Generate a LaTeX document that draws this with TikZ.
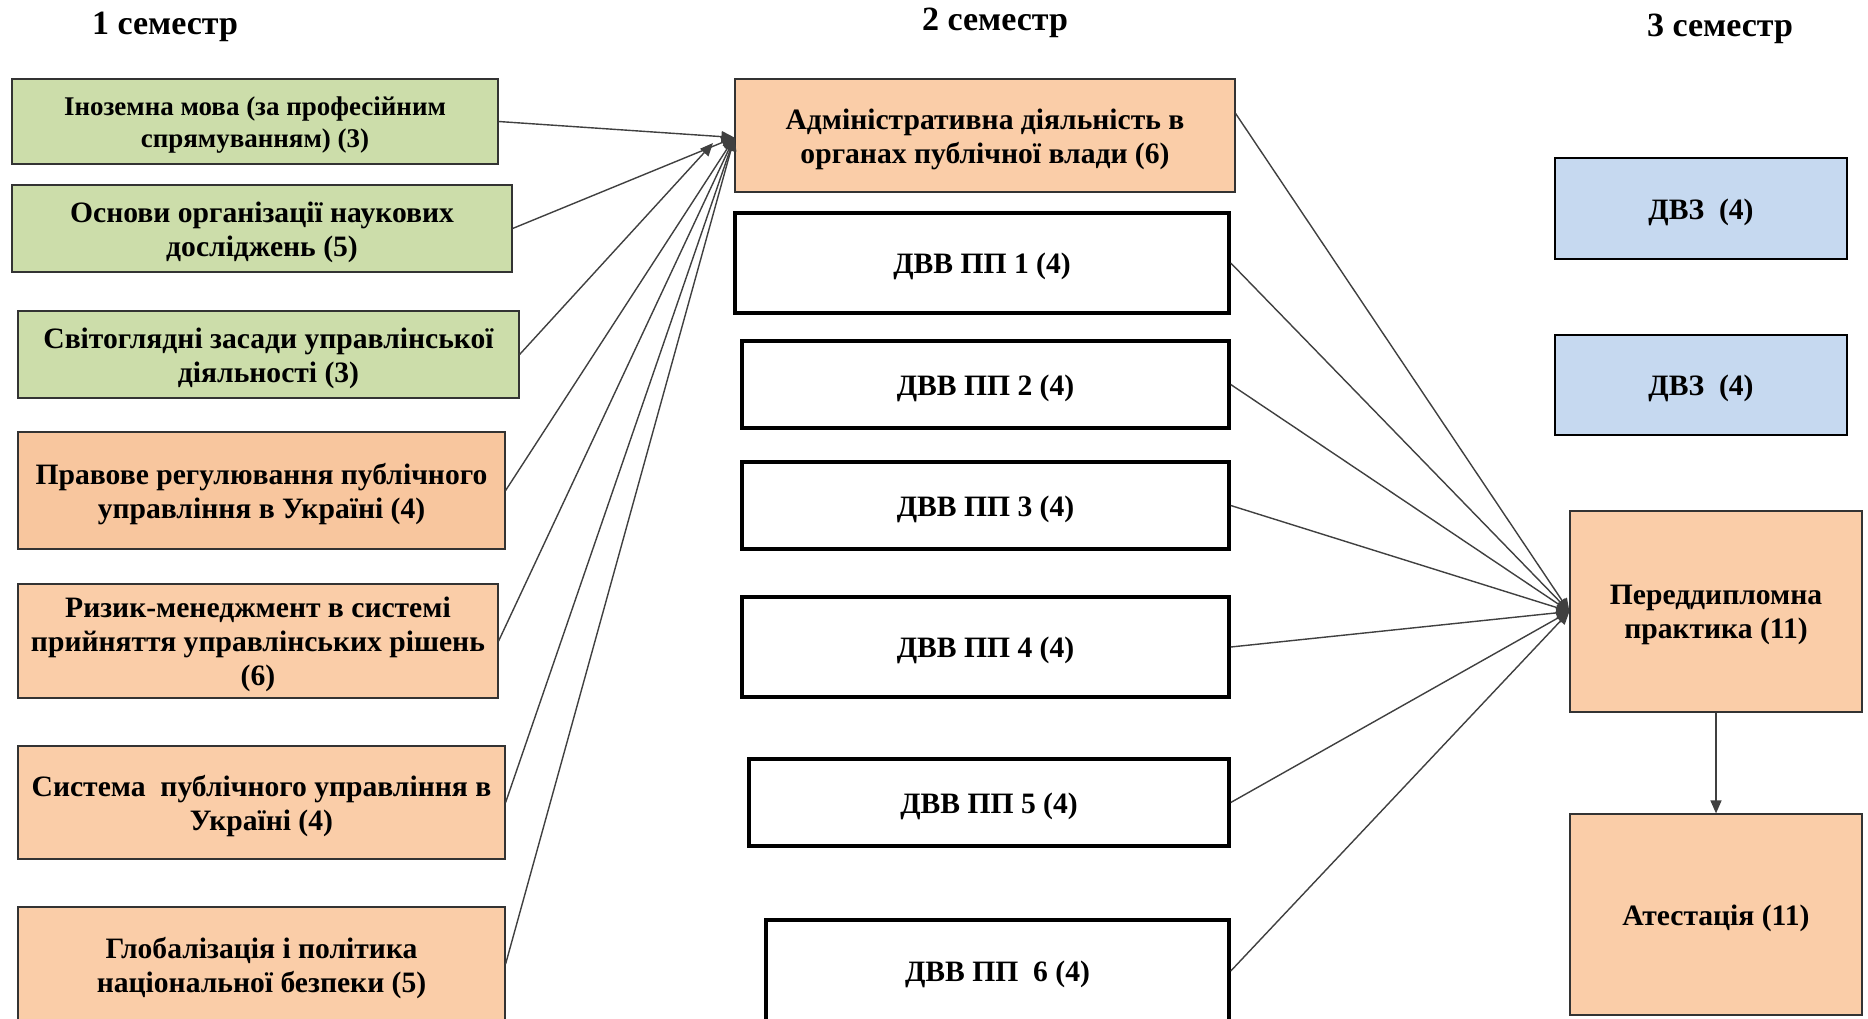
\documentclass[tikz,border=0pt]{standalone}
\usepackage{fontspec}
\setmainfont{Liberation Serif}
\usetikzlibrary{arrows.meta}
\definecolor{boxgreen}{RGB}{204,221,170}
\definecolor{boxorange}{RGB}{250,205,168}
\definecolor{boxorangedk}{RGB}{248,198,158}
\definecolor{boxblue}{RGB}{198,217,240}
\definecolor{linegray}{RGB}{64,64,64}
% box node (named #1) plus its text node (named #1t), text lowered slightly
\newcommand\bx[8]{%
  \node[#6, minimum width={#4-#2}, minimum height={#5-#3}] (#1) at ({(#2+#4)/2},{(#3+#5)/2}) {};
  \node[#7] (#1t) at ([yshift=-3.8pt]#1.center) {#8};}
\begin{document}
\begin{tikzpicture}[x=1pt,y=-1pt,
  base/.style={rectangle, inner sep=0pt},
  txt/.style={inner sep=0pt, align=center, font=\fontsize{29.6}{34}\selectfont\bfseries},
  smalltxt/.style={inner sep=0pt, align=center, font=\fontsize{27}{32}\selectfont\bfseries},
  greenbox/.style={base, fill=boxgreen, draw=black!80, line width=1.2pt},
  orangebox/.style={base, fill=boxorange, draw=black!80, line width=1.2pt},
  orangedkbox/.style={base, fill=boxorangedk, draw=black!80, line width=1.2pt},
  whitebox/.style={base, fill=white, draw=black, line width=3.5pt},
  bluebox/.style={base, fill=boxblue, draw=black, line width=2.5pt},
  header/.style={font=\fontsize{34}{40}\selectfont\bfseries, inner sep=0pt},
  arr/.style={draw=linegray, line width=1.4pt, -{Triangle[length=13pt,width=11pt]}}
]
\useasboundingbox (0,0) rectangle (1868,1018);
\fill[white] (0,0) rectangle (1868,1018);

% headers
\node[header] (h1) at (165,27) {1 семестр};
\node[header] (h2) at (995,23) {2 семестр};
\node[header] (h3) at (1720,29) {3 семестр};

% semester 1
\bx{L1}{12}{79}{498}{164}{greenbox}{smalltxt}{Іноземна мова (за професійним\\спрямуванням) (3)}
\bx{L2}{12}{185}{512}{272}{greenbox}{txt}{Основи організації наукових\\досліджень (5)}
\bx{L3}{18}{311}{519}{398}{greenbox}{txt}{Світоглядні засади управлінської\\діяльності (3)}
\bx{L4}{18}{432}{505}{549}{orangedkbox}{txt}{Правове регулювання публічного\\управління в Україні (4)}
\bx{L5}{18}{584}{498}{698}{orangebox}{txt}{Ризик-менеджмент в системі\\прийняття управлінських рішень\\(6)}
\bx{L6}{18}{746}{505}{859}{orangebox}{txt}{Система\ \ публічного управління в\\Україні (4)}
\bx{L7}{18}{907}{505}{1021}{orangebox}{txt}{Глобалізація і політика\\національної безпеки (5)}

% semester 2
\bx{A}{735}{79}{1235}{192}{orangebox}{txt}{Адміністративна діяльність в\\органах публічної влади (6)}
\bx{B}{735}{213}{1229}{313}{whitebox}{txt}{ДВВ ПП 1 (4)}
\bx{C}{742}{341}{1229}{428}{whitebox}{txt}{ДВВ ПП 2 (4)}
\bx{D}{742}{462}{1229}{549}{whitebox}{txt}{ДВВ ПП 3 (4)}
\bx{E}{742}{597}{1229}{697}{whitebox}{txt}{ДВВ ПП 4 (4)}
\bx{F}{749}{759}{1229}{846}{whitebox}{txt}{ДВВ ПП 5 (4)}
\bx{G}{766}{920}{1229}{1022}{whitebox}{txt}{ДВВ ПП\ \ 6 (4)}

% semester 3
\bx{H}{1555}{158}{1847}{259}{bluebox}{txt}{ДВЗ\ \ (4)}
\bx{I}{1555}{335}{1847}{435}{bluebox}{txt}{ДВЗ\ \ (4)}
\bx{J}{1570}{511}{1862}{712}{orangebox}{txt}{Переддипломна\\практика (11)}
\bx{K}{1570}{814}{1862}{1015}{orangebox}{txt}{Атестація (11)}

% connectors semester 1 -> A
\coordinate (A3end) at (713,143);
\foreach \n in {L1,L2,L4,L5,L6,L7}
  \draw[arr] (\n.east) -- ([yshift=-2pt]A.west);
\draw[arr] (L3.east) -- (A3end);

% connectors semester 2 -> J
\draw[arr] ([yshift=22pt]A.east) -- (J.west);
\foreach \n in {B,C,D,E,F,G}
  \draw[arr] (\n.east) -- (J.west);

\draw[arr] (J.south) -- (K.north);
\end{tikzpicture}
\end{document}
